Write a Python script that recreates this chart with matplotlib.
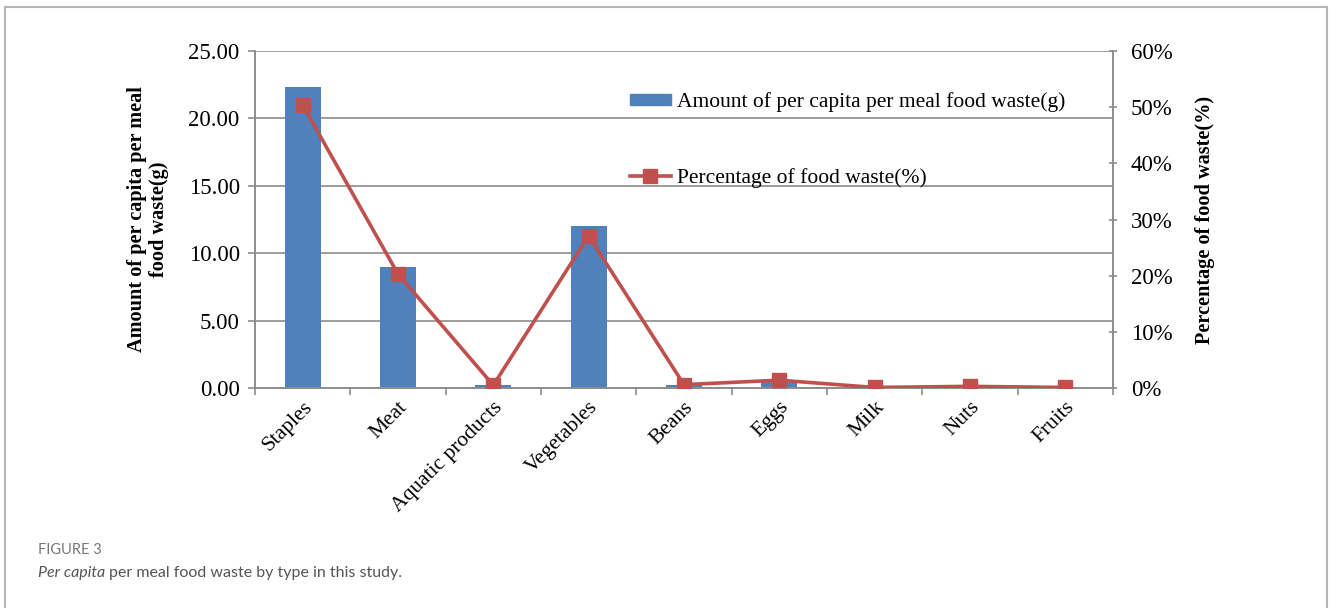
import numpy as np
import matplotlib
matplotlib.use("Agg")
import matplotlib.pyplot as plt
from matplotlib.lines import Line2D
from matplotlib.patches import Patch

# Datos
categories = ["Staples", "Meat", "Aquatic products", "Vegetables", "Beans",
              "Eggs", "Milk", "Nuts", "Fruits"]
amount_g = [22.35, 8.95, 0.25, 12.05, 0.25, 0.45, 0.05, 0.1, 0.05]
percent = [50.4, 20.3, 0.5, 27.1, 0.6, 1.4, 0.1, 0.3, 0.1]
left_ticks = [0, 5, 10, 15, 20, 25]
right_ticks = [0, 10, 20, 30, 40, 50, 60]

plt.rcParams["font.family"] = ["Liberation Serif", "DejaVu Serif"]
grey = "#8c8c8c"
blue = "#4F81BD"
red = "#C0504D"

fig = plt.figure(figsize=(13.3, 6.08), dpi=100)
ax = fig.add_axes([0.1917, 0.3618, 0.6451, 0.5543])
ax2 = ax.twinx()

x = np.arange(len(categories))
ax.bar(x, amount_g, width=0.38, color=blue, zorder=2)
ax.set_xlim(-0.5, len(categories) - 0.5)
ax.set_ylim(0, 25)
ax.set_yticks(left_ticks)
ax.set_yticklabels([f"{v:.2f}" for v in left_ticks], fontsize=16.5)
ax.yaxis.grid(True, color=grey, linewidth=1.2)
ax.set_axisbelow(True)

ax.set_xticks(x)
ax.set_xticklabels(categories, rotation=45, ha="right", rotation_mode="anchor",
                   fontsize=15.5)
ax.set_xticks(np.arange(-0.5, len(categories)), minor=True)
ax.tick_params(axis="x", which="major", length=0, pad=7)
ax.tick_params(axis="x", which="minor", length=5, color=grey, width=1.2)
ax.tick_params(axis="y", length=5, color=grey, width=1.2, pad=6)

ax2.plot(x, percent, color=red, linewidth=2.6, marker="s", markersize=10,
         zorder=3)
ax2.set_ylim(0, 60)
ax2.set_yticks(right_ticks)
ax2.set_yticklabels([f"{v}%" for v in right_ticks], fontsize=16.5)
ax2.tick_params(axis="y", length=6, color=grey, width=1.2, direction="inout", pad=10)

for a in (ax, ax2):
    a.spines["top"].set_visible(False)
    for s in ("left", "right", "bottom"):
        a.spines[s].set_color(grey)
        a.spines[s].set_linewidth(1.2)

ax.set_ylabel("Amount of per capita per meal\nfood waste(g)", fontsize=14.6,
              fontweight="bold", labelpad=14, linespacing=1.15)
ax2.set_ylabel("Percentage of food waste(%)", fontsize=14.6, fontweight="bold",
               labelpad=16)

handles = [Patch(color=blue),
           Line2D([], [], color=red, linewidth=2.6, marker="s", markersize=10)]
labels = ["Amount of per capita per meal food waste(g)",
          "Percentage of food waste(%)"]
ax2.legend(handles, labels, loc="upper left", bbox_to_anchor=(0.437, 0.878),
           frameon=False, fontsize=15.5, labelspacing=2.6, handlelength=1.9,
           handleheight=0.45, handletextpad=0.28, borderpad=0, borderaxespad=0)

# Marco de la tarjeta
W, H = 1330, 608
for xs, ys in [((5 / W, 5 / W), (0, 1 - 7 / H)),
               ((5 / W, 1327 / W), (1 - 7 / H, 1 - 7 / H)),
               ((1327 / W, 1327 / W), (0, 1 - 7 / H))]:
    fig.add_artist(Line2D(xs, ys, color="#b5b5b5", linewidth=1.5,
                          transform=fig.transFigure))

fig.text(38 / W, 1 - 550 / H, "FIGURE 3", family="Lato", fontsize=10.5,
         color="#777777", va="center")
cap = fig.text(38 / W, 1 - 573 / H, "Per capita", family="Lato", style="italic",
               fontsize=11.5, color="#555555", va="center")
fig.canvas.draw()
bb = cap.get_window_extent()
fig.text(bb.x1 / W + 4 / W, 1 - 573 / H,
         "per meal food waste by type in this study.",
         family="Lato", fontsize=11.5, color="#555555", va="center")

fig.savefig("out.png", dpi=100)
